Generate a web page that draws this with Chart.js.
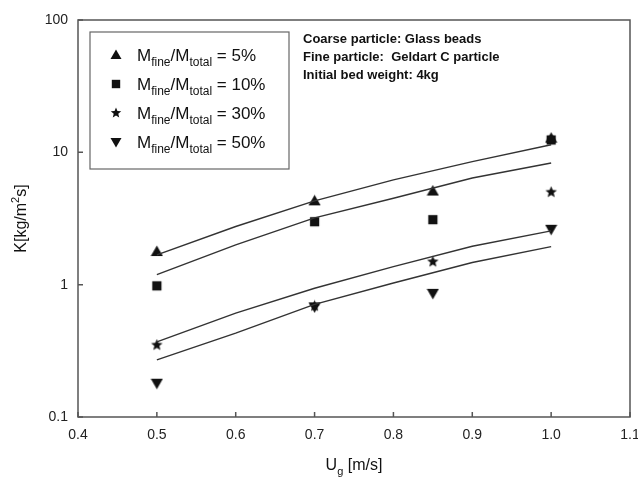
<!DOCTYPE html>
<html>
<head>
<meta charset="utf-8">
<script src="https://cdn.jsdelivr.net/npm/chart.js@4/dist/chart.umd.min.js"></script>
<style>
  html, body { margin: 0; padding: 0; background: #fff; }
  #wrap { width: 638px; height: 479px; }
</style>
</head>
<body>
<div id="wrap"><canvas id="myChart" width="638" height="479"></canvas></div>
<script>
// measured points
const speeds = [0.5, 0.7, 0.85, 1.0];
const k5 = [1.78, 4.3, 5.1, 12.8];
const k10 = [0.98, 2.99, 3.1, 12.4];
const k30 = [0.35, 0.69, 1.49, 5.0];
const k50 = [0.18, 0.68, 0.86, 2.62];

// model curves
const fitX = [0.5, 0.6, 0.7, 0.8, 0.9, 1.0];
const fit5 = [1.68, 2.75, 4.3, 6.2, 8.5, 11.4];
const fit10 = [1.19, 2.0, 3.2, 4.5, 6.4, 8.3];
const fit30 = [0.37, 0.61, 0.94, 1.37, 1.95, 2.55];
const fit50 = [0.27, 0.43, 0.71, 1.03, 1.47, 1.94];

const seriesPct = ['5%', '10%', '30%', '50%'];
const notes = ['Coarse particle: Glass beads', 'Fine particle:  Geldart C particle', 'Initial bed weight: 4kg'];

const ink = '#111';
const axisGray = '#555';

function drawMarker(c, kind, x, y, s) {
    c.beginPath();
    if (kind === 'tri') {
        c.moveTo(x, y - s * 0.55); c.lineTo(x + s * 0.55, y + s * 0.4); c.lineTo(x - s * 0.55, y + s * 0.4);
    } else if (kind === 'inv') {
        c.moveTo(x, y + s * 0.55); c.lineTo(x + s * 0.55, y - s * 0.4); c.lineTo(x - s * 0.55, y - s * 0.4);
    } else if (kind === 'sq') {
        c.rect(x - s * 0.42, y - s * 0.42, s * 0.84, s * 0.84);
    } else {
        for (let i = 0; i < 10; i++) {
            const r = i % 2 === 0 ? s * 0.55 : s * 0.24;
            const a = -Math.PI / 2 + i * Math.PI / 5;
            const px = x + r * Math.cos(a), py = y + r * Math.sin(a);
            if (i === 0) c.moveTo(px, py); else c.lineTo(px, py);
        }
    }
    c.closePath();
    c.fillStyle = ink;
    c.fill();
}

function markerCanvas(kind, s) {
    const cv = document.createElement('canvas');
    cv.width = s + 2; cv.height = s + 2;
    drawMarker(cv.getContext('2d'), kind, (s + 2) / 2, (s + 2) / 2, s);
    return cv;
}

const kinds = ['tri', 'sq', 'star', 'inv'];
const sizes = [11, 11, 11, 11];

function points(xs, ys) { return xs.map((x, i) => ({x: x, y: ys[i]})); }

function lineSet(ys) {
    return {
        data: points(fitX, ys), showLine: true, borderColor: '#333', borderWidth: 1.4,
        pointRadius: 0, tension: 0, fill: false
    };
}
function markSet(ys, i) {
    return {
        data: points(speeds, ys), showLine: false, pointStyle: markerCanvas(kinds[i], sizes[i]),
        pointRadius: 6
    };
}

// draw text with sub/superscript runs: [text, 'n'|'sub'|'sup']
function richText(c, runs, x, y, size) {
    let cx = x;
    runs.forEach(r => {
        const fs = r[1] === 'n' ? size : Math.round(size * 0.68);
        const dy = r[1] === 'sub' ? size * 0.3 : (r[1] === 'sup' ? -size * 0.42 : 0);
        c.font = fs + 'px Arial, "Liberation Sans"';
        c.fillText(r[0], cx, y + dy);
        cx += c.measureText(r[0]).width;
    });
    return cx - x;
}
function richWidth(c, runs, size) {
    let w = 0;
    runs.forEach(r => {
        const fs = r[1] === 'n' ? size : Math.round(size * 0.68);
        c.font = fs + 'px Arial, "Liberation Sans"';
        w += c.measureText(r[0]).width;
    });
    return w;
}

const decorations = {
    id: 'decorations',
    afterDraw(chart) {
        const c = chart.ctx;
        const a = chart.chartArea;
        const xs = chart.scales.x, ys = chart.scales.y;
        c.save();
        // frame
        c.strokeStyle = axisGray; c.lineWidth = 1.5;
        c.strokeRect(a.left, a.top, a.right - a.left, a.bottom - a.top);
        // inner ticks
        c.beginPath();
        xs.ticks.forEach(t => {
            const px = xs.getPixelForValue(t.value);
            c.moveTo(px, a.bottom); c.lineTo(px, a.bottom - 5);
        });
        ys.ticks.forEach(t => {
            const l = Math.log10(t.value);
            if (Math.abs(l - Math.round(l)) > 1e-6) return;
            const py = ys.getPixelForValue(t.value);
            c.moveTo(a.left, py); c.lineTo(a.left + 5, py);
        });
        c.stroke();

        // legend box
        c.strokeStyle = '#666'; c.lineWidth = 1.2;
        c.strokeRect(90, 32, 199, 137);
        c.fillStyle = ink; c.textBaseline = 'alphabetic'; c.textAlign = 'left';
        seriesPct.forEach((p, i) => {
            const yb = 61 + i * 29;
            drawMarker(c, kinds[i], 116, yb - 6, 10);
            c.fillStyle = ink;
            richText(c, [['M', 'n'], ['fine', 'sub'], ['/M', 'n'], ['total', 'sub'], [' = ' + p, 'n']], 137, yb, 17);
        });

        // notes
        c.font = 'bold 13px Arial, "Liberation Sans"';
        notes.forEach((t, i) => c.fillText(t, 303, 43 + i * 18));

        // axis titles
        const xr = [['U', 'n'], ['g', 'sub'], [' [m/s]', 'n']];
        const xw = richWidth(c, xr, 16);
        richText(c, xr, (a.left + a.right) / 2 - xw / 2, 470, 16);
        const yr = [['K[kg/m', 'n'], ['2', 'sup'], ['s]', 'n']];
        const yw = richWidth(c, yr, 16);
        c.translate(26, (a.top + a.bottom) / 2);
        c.rotate(-Math.PI / 2);
        richText(c, yr, -yw / 2, 0, 16);
        c.restore();
    }
};

const ctx = document.getElementById('myChart').getContext('2d');
const myChart = new Chart(ctx, {
    type: 'scatter',
    data: {
        datasets: [
            lineSet(fit5), lineSet(fit10), lineSet(fit30), lineSet(fit50),
            markSet(k5, 0), markSet(k10, 1), markSet(k30, 2), markSet(k50, 3)
        ]
    },
    options: {
        responsive: false,
        animation: false,
        layout: { padding: { left: 0, top: 20, right: 8, bottom: 0 } },
        plugins: { legend: { display: false }, tooltip: { enabled: false } },
        scales: {
            x: {
                type: 'linear', min: 0.4, max: 1.1,
                border: { display: false },
                grid: { display: false },
                ticks: {
                    stepSize: 0.1, padding: 2, color: '#222',
                    font: { family: 'Arial, "Liberation Sans"', size: 14 },
                    callback: v => v.toFixed(1)
                },
                afterFit: s => { s.height = 62; s.paddingLeft = 0; s.paddingRight = 0; }
            },
            y: {
                type: 'logarithmic', min: 0.1, max: 100,
                border: { display: false },
                grid: { display: false },
                ticks: {
                    autoSkip: false, padding: 2, color: '#222',
                    font: { family: 'Arial, "Liberation Sans"', size: 14 },
                    callback: v => {
                        const l = Math.log10(v);
                        return Math.abs(l - Math.round(l)) < 1e-6 ? String(Number(v.toPrecision(3))) : '';
                    }
                },
                afterFit: s => { s.width = 78; s.paddingTop = 0; s.paddingBottom = 0; }
            }
        }
    },
    plugins: [decorations]
});
</script>
</body>
</html>
